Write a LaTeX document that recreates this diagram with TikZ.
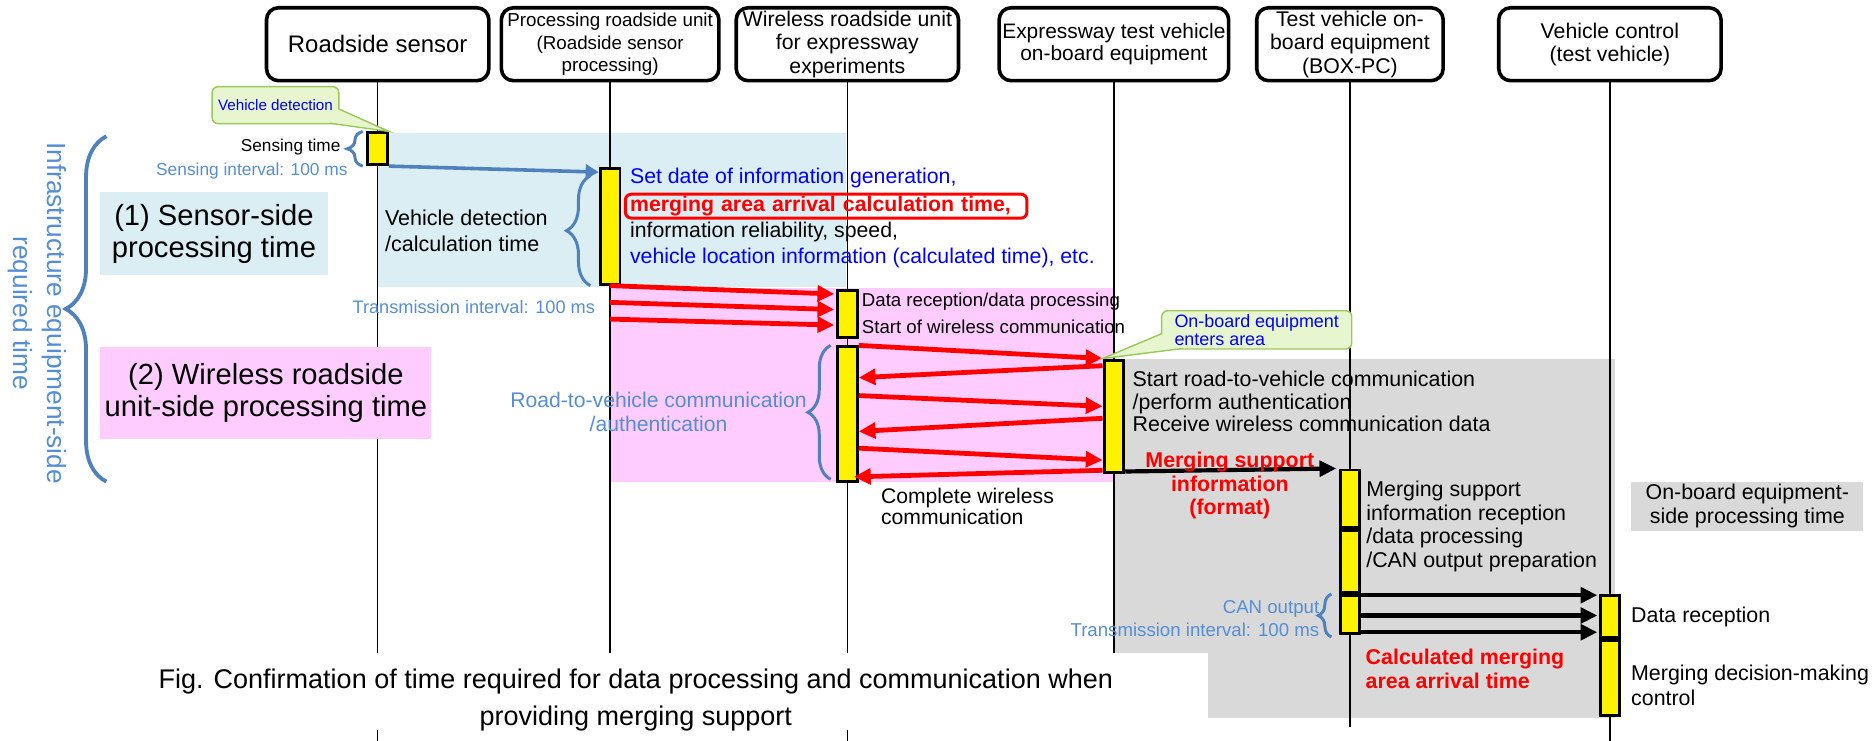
\documentclass[tikz,border=0pt]{standalone}
\usepackage{fontspec}
\setmainfont{Liberation Sans}
\definecolor{sensorbg}{RGB}{218,238,243}
\definecolor{wirelessbg}{RGB}{255,204,255}
\definecolor{onboardbg}{RGB}{217,217,217}
\definecolor{bracketblue}{RGB}{79,129,189}
\definecolor{labelblue}{RGB}{85,142,213}
\definecolor{textblue}{RGB}{0,0,255}
\definecolor{calloutfill}{RGB}{232,246,208}
\definecolor{calloutedge}{RGB}{155,200,90}
\usetikzlibrary{arrows.meta,positioning,calc,decorations.pathreplacing}

\begin{document}
\begin{tikzpicture}[x=1pt, y=-1pt,
    header/.style={draw, line width=3pt, rounded corners=10pt, align=center, inner sep=0pt,
                   minimum width=186pt, minimum height=61pt, font=\fontsize{17.8}{19.5}\selectfont},
    lifeline/.style={line width=1.2pt},
    bar/.style={draw, line width=2.5pt, fill=yellow, inner sep=0pt, minimum width=16.5pt},
    txt/.style={inner sep=0pt, align=left, font=\fontsize{17.9}{20}\selectfont},
    callout/.style={draw=calloutedge, fill=calloutfill, rounded corners=5pt, line width=1.2pt,
                    inner sep=0pt, text=textblue, align=left},
    bracket/.style={draw=bracketblue, line width=2.5pt, decorate, decoration={brace, amplitude=#1}},
    redarrow/.style={draw=red, line width=4pt, -{Triangle[length=14pt,width=13pt]}},
    blackarrow/.style={line width=3.5pt, -{Triangle[length=14pt,width=13pt]}},
    bluearrow/.style={draw=bracketblue, line width=3pt, -{Triangle[length=11pt,width=12pt]}}]
  \useasboundingbox (0,0) rectangle (1568,620);

  \fill[sensorbg] (316,111) rectangle (708,240);
  \fill[wirelessbg] (510,241) rectangle (931,403);
  \fill[onboardbg] (931,300) rectangle (1351,601);

  \node[header, font=\fontsize{20}{24}\selectfont] (sensor) at (316,37) {Roadside sensor};
  \node[header, minimum width=182pt, font=\fontsize{15.7}{19}\selectfont] (procunit) at (510.5,37)
    {Processing roadside unit\\(Roadside sensor\\processing)};
  \node[header] (wlunit) at (709,37) {Wireless roadside unit\\for expressway\\experiments};
  \node[header, minimum width=192pt, font=\fontsize{17.5}{19}\selectfont] (obu) at (932,37)
    {Expressway test vehicle\\on-board equipment};
  \node[header, minimum width=156pt] (boxpc) at (1129.5,37) {Test vehicle on-\\board equipment\\(BOX-PC)};
  \node[header] (vctrl) at (1347,37) {Vehicle control\\(test vehicle)};

  \coordinate (capttop) at (0,546);
  \coordinate (bottom) at (0,620);
  \coordinate (pcend) at (0,608);
  \draw[lifeline] (sensor.south) -- (sensor.south |- bottom);
  \draw[lifeline] (procunit.south) -- (procunit.south |- capttop);
  \draw[lifeline] (wlunit.south) -- (wlunit.south |- bottom);
  \draw[lifeline] (obu.south) -- (obu.south |- capttop);
  \draw[lifeline] (boxpc.south) -- (boxpc.south |- pcend);
  \draw[lifeline] (vctrl.south) -- (vctrl.south |- bottom);

  \fill[white] (100,546) rectangle (1011,611);
  \node[align=center, inner sep=0pt, font=\fontsize{22.6}{31}\selectfont] (figcap) at (532,585.5)
    {Fig. Confirmation of time required for data processing and communication when\\providing merging support};

  \node[bar, minimum height=26.5pt] (sensebar) at (316,124.5) {};
  \node[bar, minimum height=96.5pt] (calcbar) at (510.5,189.5) {};
  \node[bar, minimum height=39.5pt] (recvbar) at (709,263) {};
  \node[bar, minimum height=112.5pt] (commbar) at (709,346.5) {};
  \node[bar, minimum height=94.5pt] (obubar) at (932,348.5) {};
  \node[bar, minimum height=48.5pt] (mergebar) at (1129.5,417.5) {};
  \node[bar, minimum height=51.5pt] (procbar) at (1129.5,470) {};
  \node[bar, minimum height=31.5pt] (canbar) at (1129.5,514) {};
  \node[bar, minimum height=35.5pt] (rxbar) at (1347,516) {};
  \node[bar, minimum height=62.5pt] (ctrlbar) at (1347,567.5) {};

  \draw[bluearrow] (sensebar.south east) -- ([yshift=-4pt]calcbar.north west);

  \draw[redarrow] (calcbar.south) -- ([xshift=-1.5pt,yshift=-4pt]recvbar.north west);
  \draw[redarrow] ([yshift=-14pt]calcbar.south) -- ([xshift=-1.5pt,yshift=-17pt]recvbar.north west);
  \draw[redarrow] ([yshift=-28pt]calcbar.south) -- ([xshift=-1.5pt,yshift=-30pt]recvbar.north west);

  \draw[redarrow] (commbar.north east) -- (obubar.north west);
  \draw[redarrow] ([yshift=-6pt]obubar.north west) -- ([yshift=-27pt]commbar.north east);
  \draw[redarrow] ([yshift=-42pt]commbar.north east) -- ([yshift=-40pt]obubar.north west);
  \draw[redarrow] ([yshift=-50pt]obubar.north west) -- ([yshift=-72pt]commbar.north east);
  \draw[redarrow] ([yshift=-86pt]commbar.north east) -- ([yshift=-85pt]obubar.north west);
  \draw[redarrow] ([yshift=-93.5pt]obubar.north west) -- ([xshift=-4pt,yshift=-110pt]commbar.north east);

  \draw[blackarrow] ([yshift=2.5pt]obubar.south east) -- ([xshift=-2pt]mergebar.north west);
  \draw[blackarrow] ([yshift=-1pt]canbar.north east) -- ([xshift=-1pt,yshift=-1pt]rxbar.north west);
  \draw[blackarrow] ([yshift=-1pt]canbar.east) -- ([xshift=-1pt,yshift=1pt]rxbar.west);
  \draw[blackarrow] ([yshift=-15pt]canbar.east) -- ([xshift=-1pt,yshift=-13pt]rxbar.west);

  \coordinate (infratop) at (89,114);
  \coordinate (infrabot) at (89,403);
  \draw[bracket=34pt, line width=3.2pt] (infrabot) -- (infratop);
  \draw[bracket=13pt] ([xshift=-3pt]sensebar.south west) -- ([xshift=-3pt]sensebar.north west);
  \draw[bracket=20pt] ([xshift=-7pt]calcbar.south west) -- ([xshift=-7pt,yshift=-7pt]calcbar.north west);
  \draw[bracket=19pt] ([xshift=-4.5pt,yshift=3pt]commbar.south west) -- ([xshift=-4.5pt]commbar.north west);
  \draw[bracket=11pt] ([xshift=-6pt,yshift=-2pt]canbar.south west) -- ([xshift=-6pt]canbar.north west);

  \node[callout, minimum width=106pt, minimum height=31pt, align=center,
        font=\fontsize{12.7}{15}\selectfont] (vdetcall) at (230.5,88) {Vehicle detection};
  \fill[calloutfill] ([xshift=-1pt,yshift=-3pt]vdetcall.east) -- (sensebar.north east)
    -- ([xshift=-8pt,yshift=1pt]vdetcall.south east) -- cycle;
  \draw[calloutedge, line width=1.2pt] ([xshift=-1pt,yshift=-3pt]vdetcall.east) -- (sensebar.north east)
    -- ([xshift=-8pt,yshift=1pt]vdetcall.south east);

  \node[callout, minimum width=159pt, minimum height=32pt, inner xsep=7pt,
        font=\fontsize{15}{15.5}\selectfont] (obcall) at (1051.5,276) {On-board equipment\\enters area};
  \fill[calloutfill] ([xshift=1pt,yshift=-3pt]obcall.west) -- (obubar.north west)
    -- ([xshift=18pt,yshift=1pt]obcall.south west) -- cycle;
  \draw[calloutedge, line width=1.2pt] ([xshift=1pt,yshift=-3pt]obcall.west) -- (obubar.north west)
    -- ([xshift=18pt,yshift=1pt]obcall.south west);

  \node[rotate=-90, align=center, inner sep=0pt, text=labelblue, font=\fontsize{22}{28.5}\selectfont]
    (infratime) at (31,262) {Infrastructure equipment-side\\required time};
  \node[fill=sensorbg, inner sep=0pt, minimum width=190.5pt, minimum height=69pt, align=center,
        font=\fontsize{24.4}{26.5}\selectfont] (sensorside) at (179,195.5) {(1) Sensor-side\\processing time};
  \node[fill=wirelessbg, inner sep=0pt, minimum width=277pt, minimum height=77pt, align=center,
        font=\fontsize{24.4}{27}\selectfont] (wlside) at (222.5,328.5) {(2) Wireless roadside\\unit-side processing time};

  \node[txt, anchor=east, font=\fontsize{14.4}{17}\selectfont] (sensetime) at (285,123) {Sensing time};
  \node[txt, anchor=east, text=labelblue, font=\fontsize{14.5}{17}\selectfont] (senseint) at (291,143)
    {Sensing interval: 100 ms};
  \node[txt, anchor=west, font=\fontsize{18}{22}\selectfont] (detcalc) at (322,193)
    {Vehicle detection\\/calculation time};
  \node[txt, anchor=east, text=labelblue, font=\fontsize{15.2}{18}\selectfont] (txint) at (498,256.5)
    {Transmission interval: 100 ms};

  \node[txt, anchor=west, text=textblue, font=\fontsize{17.8}{20}\selectfont] (gendate) at (527,149)
    {Set date of information generation,};
  \node[draw=red, line width=2.5pt, rounded corners=5pt, anchor=west, inner xsep=4pt, inner ysep=1pt,
        text width=328pt, minimum height=20pt, text=red, align=left,
        font=\fontsize{17.8}{20}\selectfont\bfseries] (arrcalc) at (522,172.5)
    {merging area arrival calculation time,};
  \node[txt, anchor=west, font=\fontsize{17.8}{20}\selectfont] (reliab) at (527,194)
    {information reliability, speed,};
  \node[txt, anchor=west, text=textblue, font=\fontsize{17.8}{20}\selectfont] (vehloc) at (527,216)
    {vehicle location information (calculated time), etc.};

  \node[txt, anchor=west, font=\fontsize{15.6}{22.6}\selectfont] (rxstart) at (721,262.3)
    {Data reception/data processing\\Start of wireless communication};
  \node[txt, align=center, text=labelblue, font=\fontsize{17.7}{20}\selectfont] (r2vlabel) at (551,345)
    {Road-to-vehicle communication\\/authentication};
  \node[txt, anchor=west, font=\fontsize{17.7}{17.5}\selectfont] (wlend) at (737,424)
    {Complete wireless\\communication};

  \node[txt, anchor=west, font=\fontsize{17.9}{18.9}\selectfont] (authtxt) at (947.5,336)
    {Start road-to-vehicle communication\\/perform authentication\\Receive wireless communication data};
  \node[txt, align=center, text=red, font=\fontsize{17.9}{19.7}\selectfont\bfseries] (mergefmt) at (1029,406.5)
    {Merging support\\information\\(format)};
  \node[txt, anchor=west] (mergerx) at (1143,440.5)
    {Merging support\\information reception\\/data processing\\/CAN output preparation};
  \node[fill=onboardbg, inner sep=0pt, minimum width=194pt, minimum height=41pt, align=center,
        font=\fontsize{17.9}{20}\selectfont] (obtime) at (1462,423.5) {On-board equipment-\\side processing time};

  \node[txt, anchor=east, align=right, text=labelblue, font=\fontsize{15.6}{19}\selectfont] (canout) at (1104,517.5)
    {CAN output\\Transmission interval: 100 ms};
  \node[txt, anchor=west, text=red, font=\fontsize{17.9}{20}\selectfont\bfseries] (calcarr) at (1142.5,560)
    {Calculated merging\\area arrival time};
  \node[txt, anchor=west] (datarx) at (1364.6,516) {Data reception};
  \node[txt, anchor=west, font=\fontsize{17.9}{21}\selectfont] (decide) at (1364.6,573.5)
    {Merging decision-making\\control};
\end{tikzpicture}
\end{document}
